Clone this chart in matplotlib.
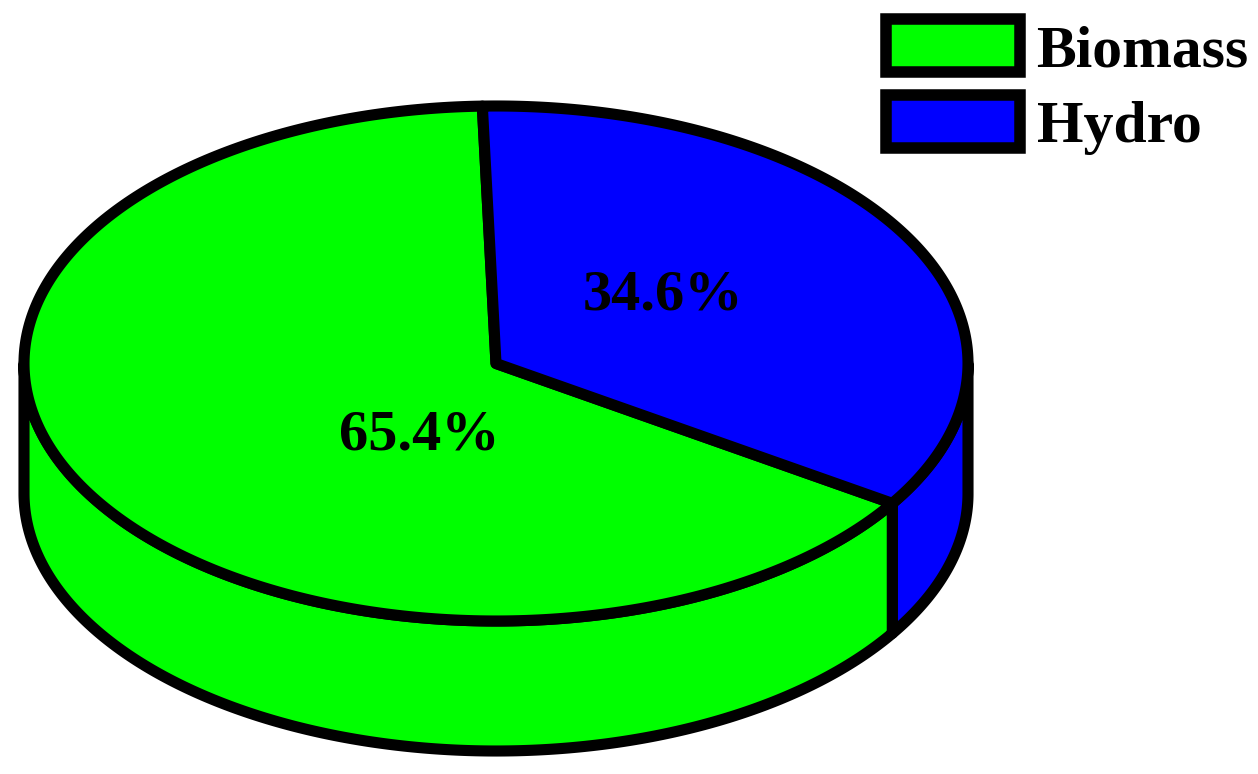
import numpy as np
import matplotlib
matplotlib.use("Agg")
import matplotlib.pyplot as plt
from matplotlib.patches import Patch

# data
labels = ["Biomass", "Hydro"]
shares = [65.4, 34.6]
colors = ["#00ff00", "#0000ff"]

# pie geometry, in image pixels
cx, cy = 496, 363.5
rx, ry = 472, 257.5
depth = 130
start_angle = 91.66
lw = 8.0


def arc(a0, a1, dy=0):
    t = np.radians(np.linspace(a0, a1, 300))
    return cx + rx * np.cos(t), cy - ry * np.sin(t) + dy


fig = plt.figure(figsize=(12.58, 7.74), dpi=100)
ax = fig.add_axes([0, 0, 1, 1])
ax.set_xlim(0, 1258)
ax.set_ylim(774, 0)
ax.axis("off")

# slice angles, hydro runs clockwise from the top, biomass takes the rest
hydro_end = start_angle - shares[1] * 3.6
biomass_end = hydro_end - shares[0] * 3.6

# side wall, only the front half of the rim shows
side_parts = [(0, hydro_end, colors[1]), (hydro_end, -180, colors[0])]
for a0, a1, c in side_parts:
    x1, y1 = arc(a0, a1)
    x2, y2 = arc(a1, a0, depth)
    ax.fill(np.r_[x1, x2], np.r_[y1, y2], facecolor=c, edgecolor="black",
            linewidth=lw, joinstyle="round", clip_on=False)

# top face
x, y = arc(hydro_end, biomass_end)
ax.fill(np.r_[cx, x], np.r_[cy, y], facecolor=colors[0], edgecolor="black",
        linewidth=lw, joinstyle="round")
x, y = arc(start_angle, hydro_end)
ax.fill(np.r_[cx, x], np.r_[cy, y], facecolor=colors[1], edgecolor="black",
        linewidth=lw, joinstyle="round")

# percent labels
font = {"family": "Liberation Serif", "weight": "bold"}
ax.text(663, 295, "%.1f%%" % shares[1], fontsize=42, ha="center", va="center",
        color="black", **font)
ax.text(419, 436, "%.1f%%" % shares[0], fontsize=42, ha="center", va="center",
        color="black", **font)

# legend
handles = [Patch(facecolor=c, edgecolor="black", linewidth=8.3) for c in colors]
ax.legend(handles, labels, loc="upper left", bbox_to_anchor=(886 / 1258, 1 - 19 / 774),
          frameon=False, borderpad=0, borderaxespad=0, handlelength=2.25,
          handleheight=1.0, handletextpad=0.27, labelspacing=0.26,
          prop={"family": "Liberation Serif", "weight": "bold", "size": 43})

fig.savefig("out.png", dpi=100, facecolor="white")
